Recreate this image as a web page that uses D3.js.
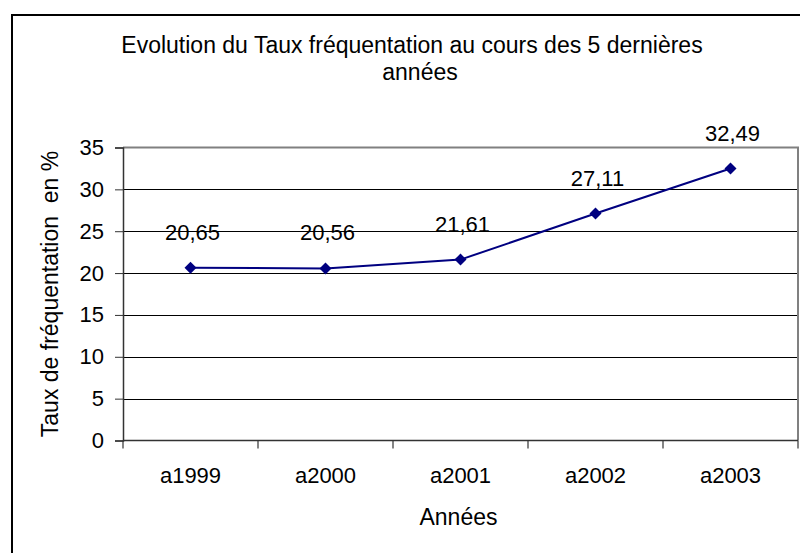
<!DOCTYPE html>
<html>
<head>
<meta charset="utf-8">
<script src="https://cdn.jsdelivr.net/npm/d3@7"></script>
<style>
  html, body { margin: 0; padding: 0; background: #fff; }
  svg { display: block; }
  text { font-family: "Liberation Sans", Arial, sans-serif; fill: #000; }
</style>
</head>
<body>
<svg id="chart" width="800" height="553"></svg>
<script>
const categories = ["a1999", "a2000", "a2001", "a2002", "a2003"];
const values = [20.65, 20.56, 21.61, 27.11, 32.49];
const valueLabels = ["20,65", "20,56", "21,61", "27,11", "32,49"];
const yTicks = [0, 5, 10, 15, 20, 25, 30, 35];
const titleLines = ["Evolution du Taux fréquentation au cours des 5 dernières", "années"];
const xTitle = "Années";
const yTitle = "Taux de fréquentation  en %";

const svg = d3.select("#chart");
const plot = { left: 123, right: 798, top: 147.5, bottom: 440.5 };
const FS = 22, TFS = 23;

// outer frame (right/bottom edges fall outside the picture)
svg.append("rect")
  .attr("x", 12).attr("y", 15)
  .attr("width", 800).attr("height", 560)
  .attr("fill", "#fff").attr("stroke", "#000").attr("stroke-width", 2);

const x = d3.scaleBand().domain(categories).range([plot.left, plot.right]).padding(0);
const y = d3.scaleLinear().domain([0, 35]).range([plot.bottom, plot.top]);

// gridlines
svg.append("g").selectAll("line").data(yTicks.filter(t => t > 0 && t < 35)).join("line")
  .attr("x1", plot.left).attr("x2", plot.right)
  .attr("y1", d => Math.round(y(d)) + 0.5).attr("y2", d => Math.round(y(d)) + 0.5)
  .attr("stroke", "#000").attr("stroke-width", 1);

// plot border (top & right gray)
svg.append("path")
  .attr("d", `M${plot.left},${plot.top}H${plot.right}V${plot.bottom}`)
  .attr("fill", "none").attr("stroke", "#808080").attr("stroke-width", 2);

// Y axis
const yAxis = d3.axisLeft(y).tickValues(yTicks).tickSize(8).tickPadding(11).tickFormat(d3.format("d"));
const gy = svg.append("g").attr("transform", `translate(${plot.left},0)`).call(yAxis);
gy.select(".domain").attr("stroke", "#333").attr("stroke-width", 1.5);
gy.selectAll(".tick line").attr("stroke", "#333");
gy.selectAll(".tick text").attr("font-size", FS).attr("font-family", "Liberation Sans, Arial, sans-serif").attr("fill", "#000");

// X axis with ticks between categories
const gx = svg.append("g").attr("transform", `translate(0,${plot.bottom})`);
gx.append("line").attr("x1", plot.left).attr("x2", plot.right).attr("y1", 0).attr("y2", 0)
  .attr("stroke", "#333").attr("stroke-width", 1.5);
const boundaries = categories.map(c => x(c)).concat([x(categories[categories.length - 1]) + x.bandwidth()]);
gx.selectAll("line.tk").data(boundaries).join("line").attr("class", "tk")
  .attr("x1", d => d).attr("x2", d => d).attr("y1", 0).attr("y2", 8)
  .attr("stroke", "#333").attr("stroke-width", 1.2);
gx.selectAll("text").data(categories).join("text")
  .attr("x", d => x(d) + x.bandwidth() / 2).attr("y", 42.5)
  .attr("text-anchor", "middle").attr("font-size", FS).text(d => d);

// line
const pts = categories.map((c, i) => [x(c) + x.bandwidth() / 2, y(values[i])]);
svg.append("path").attr("d", d3.line()(pts))
  .attr("fill", "none").attr("stroke", "#000080").attr("stroke-width", 2);

// diamonds
svg.append("g").selectAll("path").data(pts).join("path")
  .attr("transform", d => `translate(${d[0]},${d[1]})`)
  .attr("d", "M0,-6L6,0L0,6L-6,0Z").attr("fill", "#000080");

// data labels
svg.append("g").selectAll("text").data(pts).join("text")
  .attr("x", d => d[0] + 2).attr("y", d => d[1] - 28)
  .attr("text-anchor", "middle").attr("font-size", FS)
  .text((d, i) => valueLabels[i]);

// title
svg.append("text").attr("x", 412).attr("y", 53).attr("text-anchor", "middle")
  .attr("font-size", TFS).text(titleLines[0]);
svg.append("text").attr("x", 420).attr("y", 80).attr("text-anchor", "middle")
  .attr("font-size", TFS).text(titleLines[1]);

// axis titles
svg.append("text").attr("x", (plot.left + plot.right) / 2 - 2).attr("y", 525)
  .attr("text-anchor", "middle").attr("font-size", TFS).text(xTitle);
svg.append("text")
  .attr("transform", `translate(58,${(plot.top + plot.bottom) / 2}) rotate(-90)`)
  .attr("text-anchor", "middle").attr("font-size", TFS)
  .style("white-space", "pre").text(yTitle);
</script>
</body>
</html>
